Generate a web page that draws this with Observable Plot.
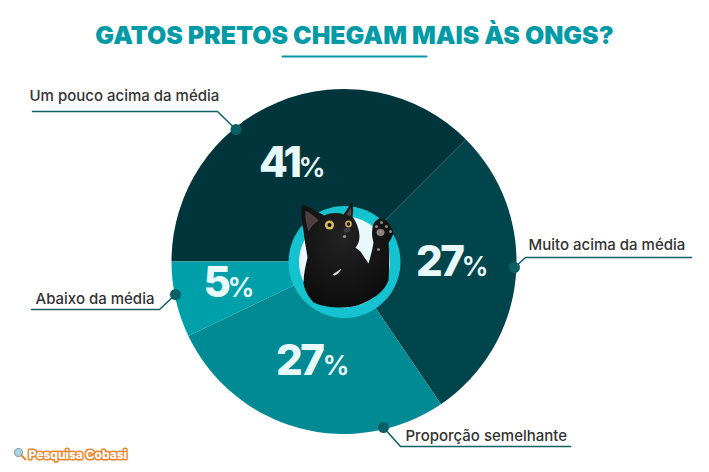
<!DOCTYPE html>
<html lang="pt">
<head>
<meta charset="utf-8">
<style>html,body{margin:0;padding:0;background:#fff;overflow:hidden}svg{display:block}.tight text{letter-spacing:-2.5px}</style>
<script src="https://cdn.jsdelivr.net/npm/d3@7"></script>
<script src="https://cdn.jsdelivr.net/npm/@observablehq/plot@0.6"></script>
</head>
<body>
<script>
const titleText = "GATOS PRETOS CHEGAM MAIS ÀS ONGS?";
const brandText = "Pesquisa Cobasi";
const categories = ["Um pouco acima da média", "Muito acima da média", "Proporção semelhante", "Abaixo da média"];
const percentValues = [41, 27, 27, 5];
// Angular share of each slice as drawn in the picture (it differs from the printed figures).
const drawnShares = [37.5, 28, 27.4, 7.1];

// Layout and styles
const sliceColors = ["#00363b", "#00454b", "#008a94", "#00a0aa"];
const center = {x: 344, y: 261.5};
const radius = 172.5;
const numberAnchor = [{x: 299, y: 176.5}, {x: 462, y: 275.5}, {x: 322, y: 374.5}, {x: 228, y: 296.5}];
const percentAnchor = [{x: 298, y: 176.5}, {x: 461, y: 275.5}, {x: 322, y: 374.5}, {x: 227, y: 296.5}];
const labelAnchor = [{x: 29, y: 100}, {x: 528, y: 249}, {x: 405, y: 440}, {x: 35, y: 303}];
const leaderPaths = [
  [[32, 111], [217, 111], [235.5, 129]],
  [[691, 257], [525, 257], [514, 267]],
  [[570, 446], [400, 446], [383, 427]],
  [[31, 309], [159, 309], [175, 294]]
];
const FONT = "Inter, 'Open Sans', sans-serif";
const ink = "#0b6066";
const paper = "#e8f9fb";

const rows = categories.map((category, i) => ({
  category, value: percentValues[i], share: drawnShares[i],
  nx: numberAnchor[i].x, ny: numberAnchor[i].y,
  px: percentAnchor[i].x, py: percentAnchor[i].y,
  lx: labelAnchor[i].x, ly: labelAnchor[i].y,
  dx: leaderPaths[i][2][0], dy: leaderPaths[i][2][1]
}));
const leaders = leaderPaths.flatMap((path, i) => path.map(([x, y]) => ({i, x, y})));

function pie(data) {
  return Plot.dot(data, {
    x: () => center.x, y: () => center.y, fill: "category",
    render(index, scales, values) {
      const g = d3.create("svg:g");
      const arcs = d3.pie().sort(null).value(i => data[i].share).startAngle(-Math.PI / 2).endAngle(1.5 * Math.PI)(Array.from(index));
      const arc = d3.arc().innerRadius(0).outerRadius(radius);
      for (const a of arcs) {
        g.append("path")
          .attr("transform", `translate(${values.x[a.data]},${values.y[a.data]})`)
          .attr("d", arc(a))
          .attr("fill", values.fill[a.data]);
      }
      return g.node();
    }
  });
}

const catSvg = `<svg xmlns="http://www.w3.org/2000/svg" viewBox="0 0 100 110">
<defs><radialGradient id="f" cx="45%" cy="35%" r="75%"><stop offset="0" stop-color="#232222"/><stop offset="1" stop-color="#0a0a0b"/></radialGradient></defs>
<path fill="url(#f)" d="M5 5C13 8 21 13 27 16C33 13 41 13 46 15C49 11 52 6 54 2C56 6 56 12 55 17C59 23 62 30 62 37C62 42 60 46 58 48C60 50 62 51 63 52L71 64C73 57 75 50 76 43C74 36 74 30 76 24C79 20 82 18 85 19C90 20 94 27 96 33C95 37 93 41 91 43C92 55 92 68 91 81C88 88 83 94 76 98C66 105 55 108 45 108C34 108 24 107 16 103C11 97 7 91 6 84C6 75 8 66 10 58C9 50 7 42 6 31C4 22 3 12 5 5Z"/>
<path fill="#7c6462" opacity=".55" d="M8 11C13 14 18 17 21 21C16 24 13 28 11 32C9 25 7 18 8 11Z"/>
<path fill="#6b6668" opacity=".6" d="M49 15C51 12 52 10 53 8C54 11 54 14 53 17Z"/>
<circle cx="32" cy="25.5" r="4.6" fill="#d8b85c"/><circle cx="32" cy="25.5" r="2" fill="#0b0b0b"/>
<circle cx="51" cy="24.5" r="3.4" fill="#c9a955"/><circle cx="51" cy="24.5" r="1.7" fill="#0b0b0b"/>
<path fill="#3f3d3d" d="M46 30C48 28 52 28 53 30C52 33 49 34 47 33Z"/>
<ellipse cx="47" cy="37" rx="1.8" ry="1.5" fill="#8f8684"/>
<path fill="#d9d9d9" d="M35 75C38 73 41 71 44 69C43 72 40 75 37 76Z"/>
<g fill="#8d8480"><ellipse cx="83" cy="33" rx="4" ry="3.4"/><circle cx="79" cy="27" r="1.5"/><circle cx="84" cy="23" r="1.5"/><circle cx="89" cy="27" r="1.5"/><circle cx="93" cy="32" r="1.5"/><circle cx="81" cy="50" r="1.5"/></g>
</svg>`;
const catSrc = "data:image/svg+xml;charset=utf-8," + encodeURIComponent(catSvg);

const chart = Plot.plot({
  width: 709, height: 472,
  margin: 0,
  style: {background: "#fff", fontFamily: FONT},
  x: {domain: [0, 709], range: [0, 709], axis: null},
  y: {domain: [0, 472], range: [0, 472], axis: null},
  color: {domain: categories, range: sliceColors},
  marks: [
    pie(rows),
    Plot.dot([center], {x: "x", y: "y", r: 56, fill: "#14c3cf"}),
    Plot.dot([center], {x: "x", y: "y", r: 45.5, fill: "#e9f9fb"}),
    Plot.image([{x: 347, y: 254}], {x: "x", y: "y", width: 100, height: 110, src: () => catSrc}),
    // title
    Plot.text([titleText], {x: () => 354, y: () => 36, text: d => d, fontSize: 24.9, fontWeight: 900, fill: "#009aa6", textAnchor: "middle", lineAnchor: "middle"}),
    Plot.line([{x: 282, y: 56}, {x: 426, y: 56}], {x: "x", y: "y", stroke: "#009aa6", strokeWidth: 2}),
    // leaders
    Plot.line(leaders, {x: "x", y: "y", z: "i", stroke: ink, strokeWidth: 1.5, curve: "linear"}),
    Plot.dot(rows, {x: "dx", y: "dy", r: 5.5, fill: ink}),
    Plot.text(rows, {x: "lx", y: "ly", text: "category", fontSize: 15, fontWeight: 500, fill: "#333", textAnchor: "start", lineAnchor: "bottom"}),
    // percents
    Plot.text(rows, {x: "nx", y: "ny", text: d => String(d.value), fontSize: 42, fontWeight: 800, fill: paper, textAnchor: "end", lineAnchor: "bottom", className: "tight"}),
    Plot.text(rows, {x: "px", y: "py", text: () => "%", fontSize: 27, fontWeight: 600, fill: paper, textAnchor: "start", lineAnchor: "bottom"}),
    // brand
    Plot.dot([{x: 18, y: 452}], {x: "x", y: "y", r: 4, fill: "#a9d3e6", stroke: "#8fa4ad", strokeWidth: 1.2}),
    Plot.line([{x: 21, y: 455}, {x: 25, y: 459}], {x: "x", y: "y", stroke: "#e8842a", strokeWidth: 2}),
    Plot.text([brandText], {x: () => 28, y: () => 458, text: d => d, fontSize: 12, fontWeight: 800, fill: "#fff", stroke: "#e8842a", strokeWidth: 3, paintOrder: "stroke", textAnchor: "start", lineAnchor: "bottom"})
  ]
});
document.body.appendChild(chart);
</script>
</body>
</html>
